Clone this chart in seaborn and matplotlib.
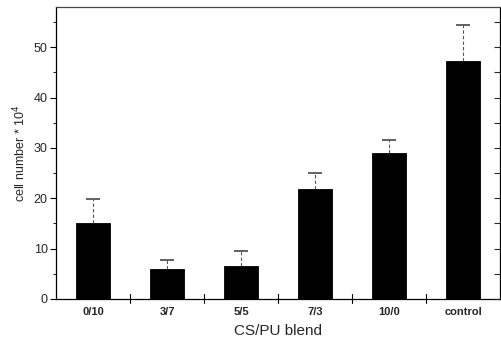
import matplotlib
matplotlib.use("Agg")
import matplotlib.pyplot as plt
import seaborn as sns
import pandas as pd
import numpy as np
from matplotlib.ticker import MultipleLocator

# CS/PU blend ratios and cell counts (x 10^4), mean and upper error
blends = ["0/10", "3/7", "5/5", "7/3", "10/0", "control"]
cell_number = [15.0, 6.0, 6.6, 21.9, 29.0, 47.3]
cell_error = [4.9, 1.8, 2.9, 3.1, 2.6, 7.1]

sns.set_theme(style="white")
plt.rcParams["font.family"] = ["Liberation Sans", "DejaVu Sans"]

df = pd.DataFrame({"blend": blends, "cells": cell_number})

fig = plt.figure(figsize=(5.01, 3.5), dpi=100)
ax = fig.add_axes([0.112, 0.146, 0.886, 0.834])

sns.barplot(data=df, x="blend", y="cells", order=blends, color="black",
            width=0.47, edgecolor="black", linewidth=0.6, ax=ax,
            errorbar=None, saturation=1)

xpos = np.arange(len(blends))
err = ax.errorbar(xpos, cell_number,
                  yerr=[np.zeros(len(cell_error)), cell_error],
                  fmt="none", ecolor="#555555", elinewidth=0.8,
                  capsize=5, capthick=1.3, zorder=3)
err[2][0].set_linestyle((0, (3, 2)))
# only the upper cap is drawn
err[1][0].set_visible(False)
err[1][1].set_color("#333333")

ax.set_xlim(-0.5, 5.5)
ax.set_ylim(0, 58)

ax.yaxis.set_major_locator(MultipleLocator(10))
ax.yaxis.set_minor_locator(MultipleLocator(5))
ax.set_yticks([0, 10, 20, 30, 40, 50])

# bottom ticks sit between categories and straddle the axis
ax.set_xticks(xpos)
ax.tick_params(axis="x", length=0, labelsize=8, pad=6)
for lbl in ax.get_xticklabels():
    lbl.set_fontweight("bold")
for b in np.arange(0.5, 5.0, 1.0):
    ax.plot([b, b], [-0.9, 0.9], color="black", lw=0.8, clip_on=False)

ax.tick_params(axis="y", which="major", direction="out", length=4,
               width=0.8, labelsize=9, left=True, pad=2, color="black")
ax.tick_params(axis="y", which="minor", direction="out", length=2,
               width=0.6, left=True, color="black")

# mirrored inward ticks on the right spine
ax2 = ax.twinx()
ax2.set_ylim(ax.get_ylim())
ax2.yaxis.set_major_locator(MultipleLocator(5))
ax2.tick_params(axis="y", direction="in", length=4, width=0.8,
                labelright=False, right=True)
ax.tick_params(axis="y", which="both", right=False)
ax2.spines[:].set_visible(False)

for side in ["left", "right", "bottom", "top"]:
    ax.spines[side].set_visible(True)
    ax.spines[side].set_color("black")
    ax.spines[side].set_linewidth(0.9)
ax.spines["top"].set_color("#444444")
ax.spines["top"].set_linestyle((0, (4, 1)))

ax.set_xlabel("CS/PU blend", fontsize=11, labelpad=5)
ax.set_ylabel("cell number * 10$^4$", fontsize=9, labelpad=4)

fig.savefig("out.png", dpi=100)
